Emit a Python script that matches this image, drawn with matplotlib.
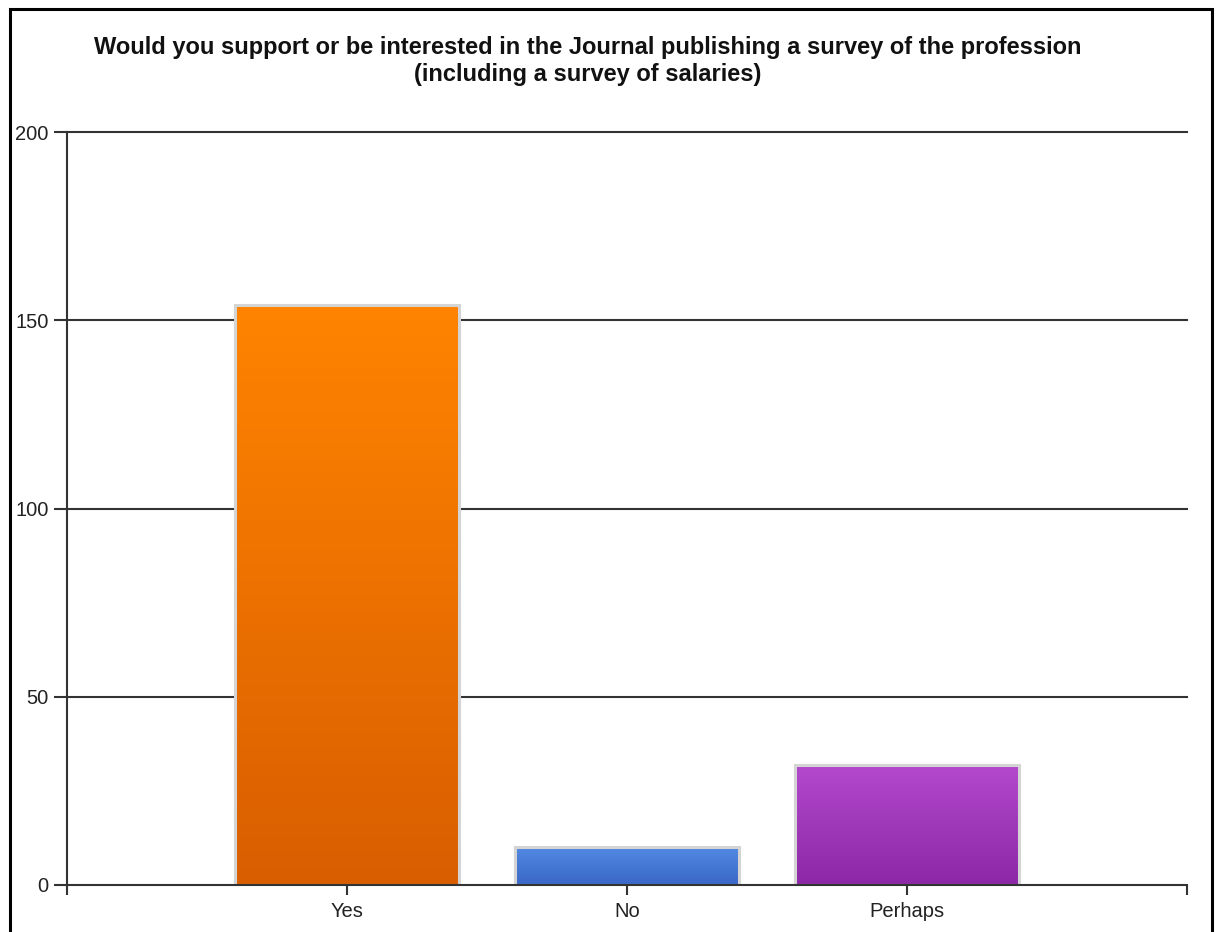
import numpy as np
import matplotlib
matplotlib.use("Agg")
import matplotlib.pyplot as plt
from matplotlib.colors import LinearSegmentedColormap
from matplotlib.patches import Rectangle

categories = ["Yes", "No", "Perhaps"]
responses = [154, 10, 32]
top_colors = ["#FF8400", "#5189E2", "#B449CE"]
bottom_colors = ["#D95E00", "#3A67C7", "#8C27A6"]
y_ticks = [0, 50, 100, 150, 200]

title_lines = ["Would you support or be interested in the Journal publishing a survey of the profession",
               "(including a survey of salaries)"]

W, H = 1217, 932
fig = plt.figure(figsize=(W / 100, H / 100), dpi=100)
fig.patch.set_facecolor("white")

ax = fig.add_axes([67 / W, 1 - 885 / H, (1187 - 67) / W, (885 - 132) / H])
ax.set_facecolor("white")

axis_col = "#333333"
positions = np.arange(1, len(categories) + 1)
bar_w = 0.8

ax.set_xlim(0, len(categories) + 1)
ax.set_ylim(0, 200)

# horizontal grid
for t in y_ticks[1:]:
    ax.axhline(t, color=axis_col, lw=1.5, zorder=1, clip_on=False)

bars = ax.bar(positions, responses, width=bar_w, facecolor="none",
              edgecolor="#d4d4d4", linewidth=2.2, zorder=4)

# vertical gradient fill for every bar
grad = np.linspace(0, 1, 256).reshape(-1, 1)
for rect, c_top, c_bot in zip(bars, top_colors, bottom_colors):
    x0, y0 = rect.get_x(), rect.get_y()
    w, h = rect.get_width(), rect.get_height()
    cmap = LinearSegmentedColormap.from_list("g", [c_bot, c_top])
    ax.imshow(grad, extent=(x0, x0 + w, y0, y0 + h), origin="lower",
              cmap=cmap, aspect="auto", zorder=3, interpolation="bilinear")
ax.set_xlim(0, len(categories) + 1)
ax.set_ylim(0, 200)

for s in ["top", "right"]:
    ax.spines[s].set_visible(False)
for s in ["left", "bottom"]:
    ax.spines[s].set_color(axis_col)
    ax.spines[s].set_linewidth(1.5)
    ax.spines[s].set_zorder(5)

ax.set_yticks(y_ticks)
ax.set_yticklabels([str(t) for t in y_ticks])
ax.set_xticks([0] + list(positions) + [len(categories) + 1])
ax.set_xticklabels([""] + categories + [""])
ax.tick_params(axis="y", length=9.4, width=1.5, color=axis_col, pad=4,
               labelsize=14.5, labelcolor="#222222")
ax.tick_params(axis="x", length=7.5, width=1.5, color=axis_col, pad=4.5,
               labelsize=14.5, labelcolor="#222222")
for lab in ax.get_xticklabels() + ax.get_yticklabels():
    lab.set_fontfamily("Liberation Sans")

# two-line bold title
for line, base_y in zip(title_lines, [54, 81]):
    fig.text(588 / W, 1 - base_y / H, line, ha="center", va="baseline",
             fontsize=17, fontweight="bold", family="Liberation Sans",
             color="#111111")

# outer frame
fig.patches.append(Rectangle((9.5 / W, -0.05), (1211.5 - 9.5) / W, 1.05 - 9.5 / H,
                             transform=fig.transFigure, fill=False,
                             edgecolor="black", linewidth=2.2, zorder=10))

fig.savefig("out.png", dpi=100, facecolor="white")
